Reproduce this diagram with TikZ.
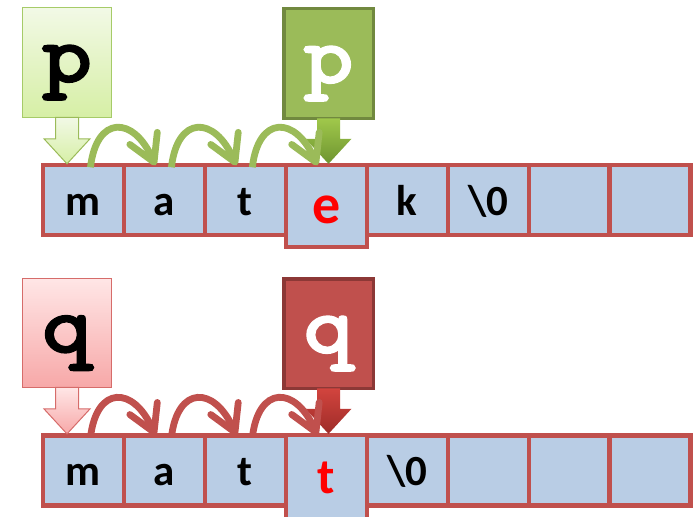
\documentclass[tikz,border=0pt]{standalone}
\usepackage{fontspec}
\setmainfont{Carlito}
\newfontfamily\ptrfont{lmmonolt10-bold.otf}[FakeStretch=1.15,FakeBold=1.5]
\usetikzlibrary{arrows.meta,calc}
\definecolor{bordred}{RGB}{192,80,77}
\definecolor{cellblue}{RGB}{185,205,229}
\definecolor{grn}{RGB}{155,187,89}
\definecolor{dgrnbd}{RGB}{113,137,63}
\definecolor{lgrntop}{RGB}{242,249,230}
\definecolor{lgrnbot}{RGB}{214,239,165}
\definecolor{lgrnbd}{RGB}{166,203,104}
\definecolor{dgrntop}{RGB}{160,200,75}
\definecolor{dgrnbot}{RGB}{110,148,48}
\definecolor{lredtop}{RGB}{255,230,230}
\definecolor{lredbot}{RGB}{247,168,168}
\definecolor{lredbd}{RGB}{214,108,106}
\definecolor{dredbd}{RGB}{140,56,54}
\definecolor{dredtop}{RGB}{210,68,62}
\definecolor{dredbot}{RGB}{158,44,40}
\definecolor{txtred}{RGB}{255,0,0}
\newcommand\blkarrow[3]{%
  \path[#1] ($(#2)+(-11.5,0)$) -- ($(#3)+(-11.5,-25)$) -- ($(#3)+(-23,-25)$) -- (#3)
    -- ($(#3)+(23,-25)$) -- ($(#3)+(11.5,-25)$) -- ($(#2)+(11.5,0)$) -- cycle;}
\begin{document}
\begin{tikzpicture}[x=1pt,y=-1pt,
  cell/.style={draw=bordred, line width=4.2pt, fill=cellblue, minimum width=80.94pt,
    minimum height=70pt, inner sep=0pt, outer sep=0pt, text height=29.5pt, text depth=0pt,
    font=\fontsize{43}{43}\selectfont\bfseries},
  hicell/.style={cell, minimum height=81.7pt, text height=34pt,
    font=\fontsize{56}{56}\selectfont\bfseries, text=txtred},
  ptr/.style={inner sep=0pt, outer sep=0pt, text height=39pt, text depth=0pt,
    font=\fontsize{84}{84}\ptrfont},
  lgptr/.style={ptr, draw=lgrnbd, line width=1.2pt, top color=lgrntop, bottom color=lgrnbot,
    minimum width=88.8pt, minimum height=109.8pt},
  dgptr/.style={ptr, draw=dgrnbd, line width=3.5pt, fill=grn, text=white,
    minimum width=89.5pt, minimum height=109.5pt},
  lrptr/.style={ptr, draw=lredbd, line width=1.2pt, top color=lredtop, bottom color=lredbot,
    minimum width=88.8pt, minimum height=108.8pt},
  drptr/.style={ptr, draw=dredbd, line width=3.5pt, fill=bordred, text=white,
    minimum width=89.5pt, minimum height=109.5pt},
  lgblk/.style={draw=grn, line width=1pt, top color=lgrntop, bottom color=lgrnbot},
  dgblk/.style={top color=dgrntop, bottom color=dgrnbot},
  lrblk/.style={draw=lredbd, line width=1pt, top color=lredtop, bottom color=lredbot},
  drblk/.style={top color=dredtop, bottom color=dredbot},
  garc/.style={draw=grn, line width=6.8pt, -{Straight Barb[length=26pt,width=30pt,round]}},
  rarc/.style={draw=bordred, line width=6.8pt, -{Straight Barb[length=26pt,width=30pt,round]}}
]
\useasboundingbox (0,0) rectangle (700,516);

% pointer boxes
\node[lgptr] (p1) at (67,62.5) {p};
\node[dgptr] (p2) at (328.5,63.5) {p};
\node[lrptr] (q1) at (67,333) {q};
\node[drptr] (q2) at (328.5,333.5) {q};

% top array
\node[cell] (a1) at (83.47,200.3) {m};
\node[cell] (a2) at (164.41,200.3) {a};
\node[cell] (a3) at (245.35,200.3) {t};
\node[cell] (a5) at (407.23,200.3) {k};
\node[cell] (a6) at (488.17,200.3) {\textbackslash0};
\node[cell] (a7) at (569.11,200.3) {};
\node[cell] (a8) at (650.05,200.3) {};
\node[hicell] (a4) at (326.29,206.15) {e};

% bottom array
\node[cell] (b1) at (83.47,470.4) {m};
\node[cell] (b2) at (164.41,470.4) {a};
\node[cell] (b3) at (245.35,470.4) {t};
\node[cell] (b5) at (407.23,470.4) {\textbackslash0};
\node[cell] (b6) at (488.17,470.4) {};
\node[cell] (b7) at (569.11,470.4) {};
\node[cell] (b8) at (650.05,470.4) {};
\node[hicell, minimum height=89.7pt, text height=25.7pt, font=\fontsize{50}{50}\selectfont\bfseries] (b4) at (326.29,480.15) {t};

% block arrows
\coordinate (tp1) at ($(p1.south |- a1.north)+(0,-1.5)$);
\coordinate (sp1) at (p1.south);
\coordinate (tp2) at ($(p2.south |- a4.north)+(0,-1.5)$);
\coordinate (sp2) at (p2.south);
\coordinate (tq1) at ($(q1.south |- b1.north)+(0,-1.5)$);
\coordinate (sq1) at (q1.south);
\coordinate (tq2) at ($(q2.south |- b4.north)+(0,-1.5)$);
\coordinate (sq2) at (q2.south);
\blkarrow{lgblk}{sp1}{tp1}
\blkarrow{dgblk}{sp2}{tp2}
\blkarrow{lrblk}{sq1}{tq1}
\blkarrow{drblk}{sq2}{tq2}

% curved arrows
\draw[garc] ($(a1.north)+(7,2)$) .. controls +(6,-52) and +(-22,-50) .. ($(a2.north)+(-9,0)$);
\draw[garc] ($(a2.north)+(7,2)$) .. controls +(6,-52) and +(-22,-50) .. ($(a3.north)+(-9,0)$);
\draw[garc] ($(a3.north)+(7,2)$) .. controls +(6,-52) and +(-22,-50) .. ($(a4.north)+(-9,0)$);
\draw[rarc] ($(b1.north)+(7,2)$) .. controls +(6,-52) and +(-22,-50) .. ($(b2.north)+(-9,0)$);
\draw[rarc] ($(b2.north)+(7,2)$) .. controls +(6,-52) and +(-22,-50) .. ($(b3.north)+(-9,0)$);
\draw[rarc] ($(b3.north)+(7,2)$) .. controls +(6,-52) and +(-22,-50) .. ($(b4.north)+(-9,0)$);
\end{tikzpicture}
\end{document}
